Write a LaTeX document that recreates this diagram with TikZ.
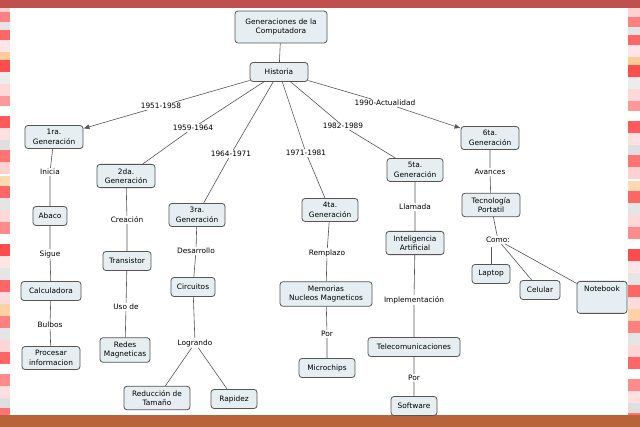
\documentclass[tikz,border=0pt]{standalone}
\usepackage{fontspec}
\setmainfont{DejaVu Sans}
\usetikzlibrary{arrows.meta}
\definecolor{nfill}{HTML}{E6EEF1}
\definecolor{nline}{HTML}{555555}
\definecolor{topbar}{HTML}{C0504D}
\definecolor{botbar}{HTML}{B8633A}
\begin{document}
\begin{tikzpicture}[x=1pt,y=-1pt,
  c/.style={draw=nline,line width=0.8pt,fill=nfill,rounded corners=3pt,align=center,font=\fontsize{7.4}{9.5}\selectfont,inner xsep=2pt,inner ysep=4pt,minimum height=19pt},
  l/.style={fill=white,font=\fontsize{7.4}{9}\selectfont,inner sep=1pt},
  e/.style={draw=nline,line width=0.6pt},
  a/.style={e,-{Latex[length=6pt,width=5pt]}}]
\useasboundingbox (0,0) rectangle (640,427);
\fill[white] (0,0) rectangle (640,427);
\foreach \y/\c in {0/pink!70,12/red!50,22/gray!20,30/red!60,40/pink!40,52/orange!40,60/red!70,72/gray!15,84/pink!60,96/red!40,106/white,116/red!65,128/pink!50,140/gray!25,150/red!55,162/pink!70,176/orange!30,186/red!60,198/gray!20,210/pink!60,222/red!45,234/white,244/red!70,256/pink!40,268/gray!20,280/red!60,292/pink!55,304/orange!35,316/red!50,328/gray!20,340/pink!65,352/red!60,364/white,374/red!45,386/pink!50,398/gray!25,408/red!55}{
  \fill[\c] (0,\y) rectangle (10,\y+12);
  \fill[\c] (628,\y+5) rectangle (640,\y+17);
}
\fill[topbar] (0,0) rectangle (640,8);
\fill[botbar] (0,415) rectangle (640,427);

\node[c,minimum width=92pt,minimum height=32pt] (gen) at (281,27) {Generaciones de la\\Computadora};
\node[c,minimum width=58pt] (his) at (279,72) {Historia};
\node[c,minimum width=58pt] (g1) at (54,137) {1ra.\\Generación};
\node[c,minimum width=34pt] (aba) at (50,216) {Abaco};
\node[c,minimum width=60pt] (cal) at (51,291) {Calculadora};
\node[c,minimum width=58pt] (pro) at (51,358) {Procesar\\informacion};
\node[c,minimum width=58pt] (g2) at (126,176) {2da.\\Generación};
\node[c,minimum width=48pt] (tra) at (127,261) {Transistor};
\node[c,minimum width=50pt] (red) at (125,350) {Redes\\Magneticas};
\node[c,minimum width=56pt] (g3) at (197,215) {3ra.\\Generación};
\node[c,minimum width=44pt] (cir) at (193,287) {Circuitos};
\node[c,minimum width=66pt] (redu) at (157,398) {Reducción de\\Tamaño};
\node[c,minimum width=46pt] (rap) at (234,399) {Rapidez};
\node[c,minimum width=56pt] (g4) at (330,210) {4ta.\\Generación};
\node[c,minimum width=92pt] (mem) at (326,294) {Memorias\\Nucleos Magneticos};
\node[c,minimum width=56pt] (mic) at (327,368) {Microchips};
\node[c,minimum width=56pt] (g5) at (415,170) {5ta.\\Generación};
\node[c,minimum width=58pt] (ia) at (415,243) {Inteligencia\\Artificial};
\node[c,minimum width=92pt] (tel) at (414,347) {Telecomunicaciones};
\node[c,minimum width=46pt] (sof) at (414,406) {Software};
\node[c,minimum width=58pt] (g6) at (490,138) {6ta.\\Generación};
\node[c,minimum width=58pt] (tec) at (491,205) {Tecnología\\Portatil};
\node[c,minimum width=38pt] (lap) at (491,274) {Laptop};
\node[c,minimum width=40pt] (cel) at (540,290) {Celular};
\node[c,minimum width=50pt,minimum height=32pt,anchor=north] (note) at (602,281) {Notebook\\[8pt]};

\draw[e] (gen) -- (his);
\node[l] (y1) at (161,106) {1951-1958};
\node[l] (y2) at (193,128) {1959-1964};
\node[l] (y3) at (231,154) {1964-1971};
\node[l] (y4) at (306,153) {1971-1981};
\node[l] (y5) at (343,126) {1982-1989};
\node[l] (y6) at (385,103) {1990-Actualidad};
\draw[e] (his) -- (y1); \draw[a] (y1) -- (g1);
\draw[e] (his) -- (y2); \draw[e] (y2) -- (g2);
\draw[e] (his) -- (y3); \draw[e] (y3) -- (g3);
\draw[e] (his) -- (y4); \draw[e] (y4) -- (g4);
\draw[e] (his) -- (y5); \draw[e] (y5) -- (g5);
\draw[e] (his) -- (y6); \draw[a] (y6) -- (g6);

\node[l] (la) at (50,172) {Inicia};
\node[l] (lb) at (50,254) {Sigue};
\node[l] (lc) at (50,325) {Bulbos};
\draw[e] (g1) -- (la) -- (aba) -- (lb) -- (cal) -- (lc) -- (pro);
\node[l] (ld) at (127,220) {Creación};
\node[l] (le) at (126,307) {Uso de};
\draw[e] (g2) -- (ld) -- (tra) -- (le) -- (red);
\node[l] (lf) at (196,251) {Desarrollo};
\node[l] (lg) at (195,343) {Logrando};
\draw[e] (g3) -- (lf) -- (cir) -- (lg) -- (redu);
\draw[e] (lg) -- (rap);
\node[l] (lh) at (327,253) {Remplazo};
\node[l] (li) at (327,334) {Por};
\draw[e] (g4) -- (lh) -- (mem) -- (li) -- (mic);
\node[l] (lj) at (415,207) {Llamada};
\node[l] (lk) at (414,300) {Implementación};
\node[l] (lm) at (414,378) {Por};
\draw[e] (g5) -- (lj) -- (ia) -- (lk) -- (tel) -- (lm) -- (sof);
\node[l] (ln) at (490,172) {Avances};
\node[l] (lo) at (498,240) {Como:};
\draw[e] (g6) -- (ln) -- (tec) -- (lo);
\coordinate (lo1) at (491,247);
\draw[e] (lo1) -- (lap);
\draw[e] (lo) -- (cel);
\draw[e] (lo) -- (note);
\end{tikzpicture}
\end{document}
